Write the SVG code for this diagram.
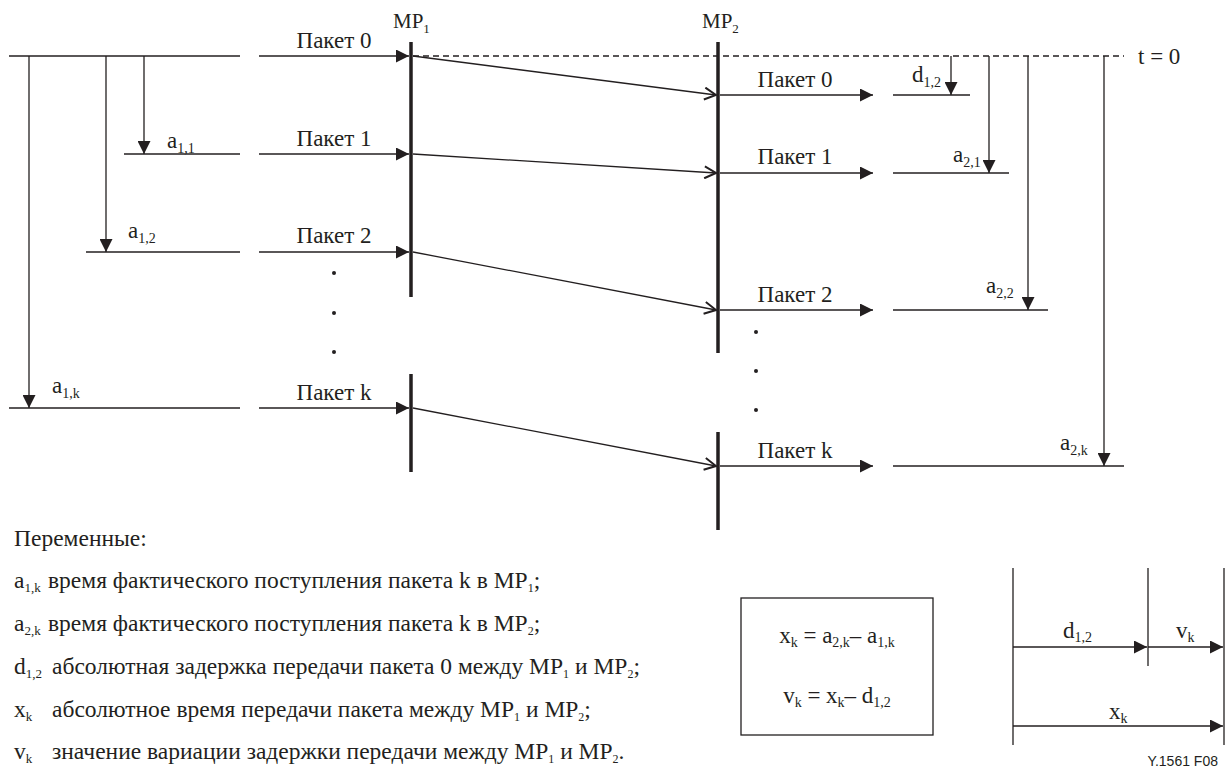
<svg xmlns="http://www.w3.org/2000/svg" width="1227" height="772" viewBox="0 0 1227 772">
  <defs>
    <style>
      text { font-family: "Liberation Serif", "Times New Roman", serif; font-size: 23px; fill: #231f20; }
      .mp { font-size: 21px; }
      .s { font-size: 14px; }
      .ms { font-size: 13px; }
      .lg { font-size: 23.5px; }
      .lsub { font-size: 13px; }
      .ls { font-size: 12px; }
      .tag { font-family: "Liberation Sans", Arial, sans-serif; font-size: 14px; }
      .ln { stroke: #231f20; stroke-width: 1.3; fill: none; }
      .bar { stroke: #231f20; stroke-width: 3.5; fill: none; }
      .dash { stroke: #231f20; stroke-width: 1.3; stroke-dasharray: 6 4; fill: none; }
      .arr { marker-end: url(#ah); }
      .open { marker-end: url(#oh); }
    </style>
    <marker id="ah" viewBox="0 0 13 13" refX="13" refY="6.5" markerWidth="13" markerHeight="13" markerUnits="userSpaceOnUse" orient="auto">
      <path d="M0,0 L13,6.5 L0,13 z" fill="#231f20"/>
    </marker>
    <marker id="oh" viewBox="0 0 14 14" refX="12.5" refY="7" markerWidth="14" markerHeight="14" markerUnits="userSpaceOnUse" orient="auto">
      <path d="M1,1 L12.5,7 L1,13" fill="none" stroke="#231f20" stroke-width="2"/>
    </marker>
  </defs>

  <!-- measurement points -->
  <g id="mp1">
    <line class="bar" x1="411" y1="42" x2="411" y2="297"/>
    <line class="bar" x1="411" y1="374" x2="411" y2="472"/>
    <text class="mp" x="393" y="28">MP<tspan class="ms" dy="5">1</tspan></text>
  </g>
  <g id="mp2">
    <line class="bar" x1="718" y1="42" x2="718" y2="353"/>
    <line class="bar" x1="718" y1="432" x2="718" y2="530"/>
    <text class="mp" x="702" y="28">MP<tspan class="ms" dy="5">2</tspan></text>
  </g>

  <!-- packets leaving towards MP1 -->
  <g id="send">
    <line class="ln" x1="9" y1="56" x2="240" y2="56"/>
    <line class="ln" x1="124" y1="154" x2="240" y2="154"/>
    <line class="ln" x1="86" y1="252" x2="240" y2="252"/>
    <line class="ln" x1="9" y1="408" x2="240" y2="408"/>
    <text x="334" y="48" text-anchor="middle">Пакет 0</text>
    <text x="334" y="146" text-anchor="middle">Пакет 1</text>
    <text x="334" y="243" text-anchor="middle">Пакет 2</text>
    <text x="334" y="400" text-anchor="middle">Пакет k</text>
    <circle cx="334" cy="273" r="2" fill="#231f20"/>
    <circle cx="334" cy="313" r="2" fill="#231f20"/>
    <circle cx="334" cy="352" r="2" fill="#231f20"/>
  </g>

  <!-- packets leaving MP2 -->
  <g id="recv">
    <line class="ln" x1="893" y1="95" x2="970" y2="95"/>
    <line class="ln" x1="893" y1="173" x2="1009" y2="173"/>
    <line class="ln" x1="893" y1="310" x2="1048" y2="310"/>
    <line class="ln" x1="893" y1="466" x2="1124" y2="466"/>
    <text x="795" y="87" text-anchor="middle">Пакет 0</text>
    <text x="795" y="164" text-anchor="middle">Пакет 1</text>
    <text x="795" y="302" text-anchor="middle">Пакет 2</text>
    <text x="795" y="458" text-anchor="middle">Пакет k</text>
    <circle cx="756" cy="332" r="2" fill="#231f20"/>
    <circle cx="756" cy="371" r="2" fill="#231f20"/>
    <circle cx="756" cy="410" r="2" fill="#231f20"/>
  </g>

  <!-- time references -->
  <g id="labels">
    <text x="167" y="148">a<tspan class="s" dy="5">1,1</tspan></text>
    <text x="128" y="238">a<tspan class="s" dy="5">1,2</tspan></text>
    <text x="52" y="393">a<tspan class="s" dy="5">1,k</tspan></text>
    <text x="912" y="82">d<tspan class="s" dy="5">1,2</tspan></text>
    <text x="953" y="162">a<tspan class="s" dy="5">2,1</tspan></text>
    <text x="986" y="293">a<tspan class="s" dy="5">2,2</tspan></text>
    <text x="1060" y="450">a<tspan class="s" dy="5">2,k</tspan></text>
    <text x="1138" y="64">t = 0</text>
  </g>

  <!-- connectors -->
  <g id="connectors">
    <line class="dash" x1="413" y1="56" x2="1124" y2="56"/>
    <!-- into MP1 -->
    <line class="ln arr" x1="259" y1="56" x2="409" y2="56"/>
    <line class="ln arr" x1="259" y1="154" x2="409" y2="154"/>
    <line class="ln arr" x1="259" y1="252" x2="409" y2="252"/>
    <line class="ln arr" x1="259" y1="408" x2="409" y2="408"/>
    <!-- MP1 to MP2 -->
    <line class="ln open" x1="413" y1="56" x2="716" y2="95"/>
    <line class="ln open" x1="413" y1="154" x2="716" y2="173"/>
    <line class="ln open" x1="413" y1="252" x2="716" y2="310"/>
    <line class="ln open" x1="413" y1="408" x2="716" y2="466"/>
    <!-- out of MP2 -->
    <line class="ln arr" x1="720" y1="95" x2="873" y2="95"/>
    <line class="ln arr" x1="720" y1="173" x2="873" y2="173"/>
    <line class="ln arr" x1="720" y1="310" x2="873" y2="310"/>
    <line class="ln arr" x1="720" y1="466" x2="873" y2="466"/>
    <!-- arrival times at MP1 -->
    <line class="ln arr" x1="29" y1="56" x2="29" y2="408"/>
    <line class="ln arr" x1="106" y1="56" x2="106" y2="252"/>
    <line class="ln arr" x1="144" y1="56" x2="144" y2="154"/>
    <!-- arrival times at MP2 -->
    <line class="ln arr" x1="951" y1="56" x2="951" y2="95"/>
    <line class="ln arr" x1="989" y1="56" x2="989" y2="173"/>
    <line class="ln arr" x1="1028" y1="56" x2="1028" y2="310"/>
    <line class="ln arr" x1="1104" y1="56" x2="1104" y2="466"/>
  </g>

  <!-- variables -->
  <g id="legend">
    <text class="lg" x="14" y="546">Переменные:</text>
    <text class="lg" x="14" y="588">a<tspan class="lsub" dy="4">1,k</tspan></text>
    <text class="lg" x="48" y="588">время фактического поступления пакета k в MP<tspan class="ls" dy="4">1</tspan><tspan dy="-4">;</tspan></text>
    <text class="lg" x="14" y="631">a<tspan class="lsub" dy="4">2,k</tspan></text>
    <text class="lg" x="48" y="631">время фактического поступления пакета k в MP<tspan class="ls" dy="4">2</tspan><tspan dy="-4">;</tspan></text>
    <text class="lg" x="14" y="674">d<tspan class="lsub" dy="4">1,2</tspan></text>
    <text class="lg" x="52" y="674">абсолютная задержка передачи пакета 0 между MP<tspan class="ls" dy="4">1</tspan><tspan dy="-4"> и MP</tspan><tspan class="ls" dy="4">2</tspan><tspan dy="-4">;</tspan></text>
    <text class="lg" x="14" y="717">x<tspan class="lsub" dy="4">k</tspan></text>
    <text class="lg" x="52" y="717">абсолютное время передачи пакета между MP<tspan class="ls" dy="4">1</tspan><tspan dy="-4"> и MP</tspan><tspan class="ls" dy="4">2</tspan><tspan dy="-4">;</tspan></text>
    <text class="lg" x="14" y="759">v<tspan class="lsub" dy="4">k</tspan></text>
    <text class="lg" x="52" y="759">значение вариации задержки передачи между MP<tspan class="ls" dy="4">1</tspan><tspan dy="-4"> и MP</tspan><tspan class="ls" dy="4">2</tspan><tspan dy="-4">.</tspan></text>
  </g>

  <!-- formulas -->
  <g id="formulas">
    <rect x="741" y="598" width="192" height="137" fill="none" stroke="#231f20" stroke-width="1.3"/>
    <text x="837" y="643" text-anchor="middle">x<tspan class="s" dy="4">k</tspan><tspan dy="-4"> = a</tspan><tspan class="s" dy="4">2,k</tspan><tspan dy="-4">– a</tspan><tspan class="s" dy="4">1,k</tspan></text>
    <text x="837" y="703" text-anchor="middle">v<tspan class="s" dy="4">k</tspan><tspan dy="-4"> = x</tspan><tspan class="s" dy="4">k</tspan><tspan dy="-4">– d</tspan><tspan class="s" dy="4">1,2</tspan></text>
  </g>

  <!-- delay breakdown -->
  <g id="breakdown">
    <line class="ln" x1="1013" y1="568" x2="1013" y2="745"/>
    <line class="ln" x1="1148" y1="568" x2="1148" y2="666"/>
    <line class="ln" x1="1224" y1="568" x2="1224" y2="745"/>
    <line class="ln arr" x1="1013" y1="647" x2="1147" y2="647" stroke-width="1.8"/>
    <line class="ln arr" x1="1148" y1="647" x2="1223" y2="647" stroke-width="1.8"/>
    <line class="ln arr" x1="1013" y1="726" x2="1223" y2="726" stroke-width="1.8"/>
    <text x="1063" y="638">d<tspan class="s" dy="4">1,2</tspan></text>
    <text x="1176" y="638">v<tspan class="s" dy="4">k</tspan></text>
    <text x="1109" y="719">x<tspan class="s" dy="4">k</tspan></text>
  </g>

  <text class="tag" x="1218" y="766" text-anchor="end">Y.1561  F08</text>
</svg>
